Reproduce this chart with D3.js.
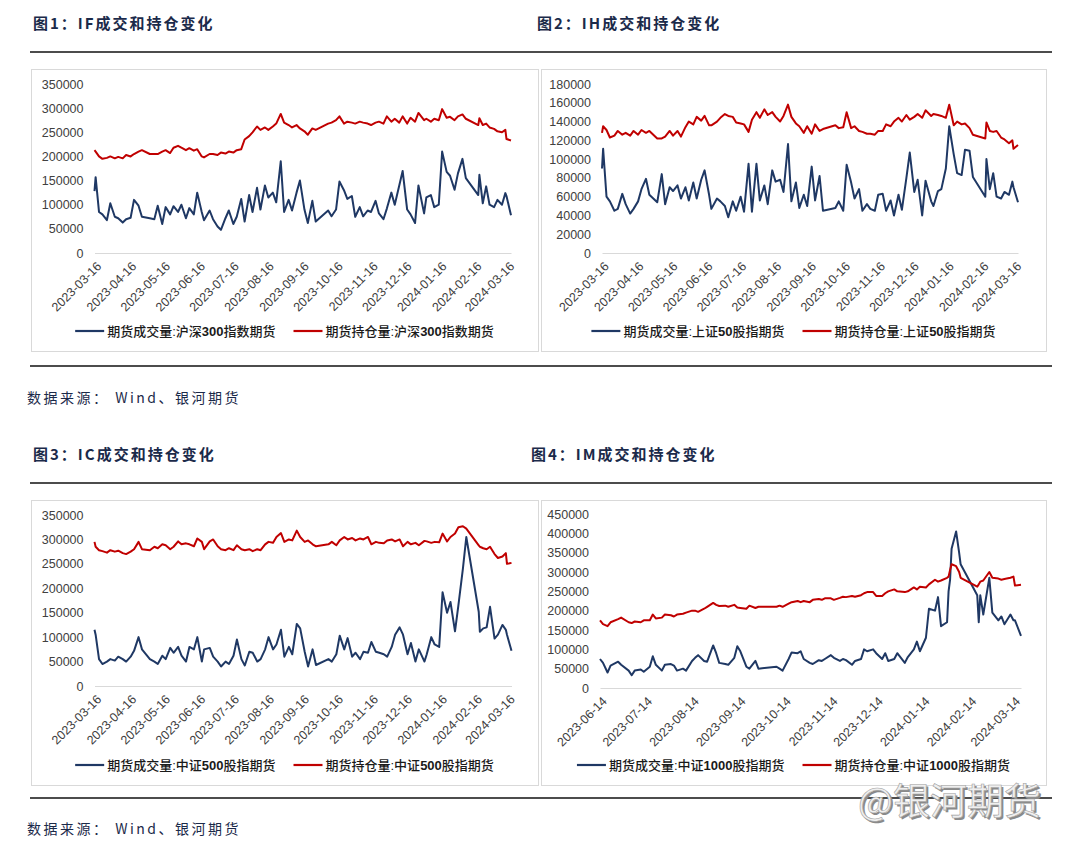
<!DOCTYPE html>
<html><head><meta charset="utf-8">
<script src="https://cdn.jsdelivr.net/npm/d3@7"></script>
<style>body{margin:0;background:#fff}svg{display:block}</style>
</head><body>
<svg id="c" width="1080" height="854"></svg>
<script>
// ---------- DATA ----------
const datesA = [
 "2023-03-16","2023-03-17","2023-03-20","2023-03-23","2023-03-27","2023-03-30",
 "2023-04-03","2023-04-06","2023-04-10","2023-04-13","2023-04-17","2023-04-20","2023-04-24","2023-04-27",
 "2023-05-04","2023-05-08","2023-05-11","2023-05-15","2023-05-18","2023-05-22","2023-05-25","2023-05-29",
 "2023-06-01","2023-06-05","2023-06-08","2023-06-12","2023-06-15","2023-06-19","2023-06-21","2023-06-26","2023-06-29",
 "2023-07-03","2023-07-06","2023-07-10","2023-07-13","2023-07-17","2023-07-20","2023-07-24","2023-07-27","2023-07-31",
 "2023-08-03","2023-08-07","2023-08-10","2023-08-14","2023-08-17","2023-08-21","2023-08-24","2023-08-28","2023-08-31",
 "2023-09-04","2023-09-07","2023-09-11","2023-09-14","2023-09-18","2023-09-21","2023-09-25","2023-09-28",
 "2023-10-09","2023-10-12","2023-10-16","2023-10-19","2023-10-23","2023-10-26","2023-10-30",
 "2023-11-02","2023-11-06","2023-11-09","2023-11-13","2023-11-16","2023-11-20","2023-11-23","2023-11-27","2023-11-30",
 "2023-12-04","2023-12-07","2023-12-11","2023-12-14","2023-12-18","2023-12-21","2023-12-25","2023-12-28",
 "2024-01-02","2024-01-04","2024-01-08","2024-01-11","2024-01-15","2024-01-18","2024-01-22","2024-01-25","2024-01-29",
 "2024-02-01","2024-02-05","2024-02-08","2024-02-19","2024-02-20","2024-02-23","2024-02-26","2024-02-29",
 "2024-03-04","2024-03-07","2024-03-11","2024-03-14","2024-03-15","2024-03-19"];

const ifVolume = [
 128000,157000,85000,80000,68000,103000,
 75000,72000,63000,70000,73000,110000,98000,75000,
 72000,70000,98000,60000,95000,80000,97000,85000,
 100000,72000,93000,80000,125000,85000,68000,88000,70000,
 55000,48000,72000,88000,60000,75000,112000,65000,120000,
 85000,135000,90000,140000,115000,125000,105000,190000,85000,
 110000,88000,125000,150000,90000,62000,108000,65000,
 88000,76000,90000,148000,130000,112000,118000,
 75000,95000,76000,88000,85000,108000,82000,70000,92000,
 125000,100000,140000,170000,90000,80000,62000,140000,
 82000,115000,120000,95000,100000,210000,168000,160000,131000,
 165000,195000,155000,120000,162000,103000,138000,100000,
 95000,110000,100000,124000,118000,78000];
const ifOI = [
 213000,210000,200000,195000,197000,200000,
 196000,199000,196000,203000,200000,205000,210000,213000,
 205000,205000,205000,210000,213000,207000,218000,222000,
 218000,213000,217000,212000,215000,200000,198000,205000,205000,
 203000,208000,206000,210000,208000,213000,215000,235000,242000,
 250000,262000,255000,260000,255000,262000,268000,288000,270000,
 265000,260000,265000,258000,252000,245000,258000,255000,
 268000,270000,275000,283000,268000,272000,270000,
 268000,272000,270000,268000,265000,270000,272000,268000,283000,
 272000,278000,270000,283000,268000,280000,272000,290000,
 275000,278000,272000,278000,275000,298000,280000,282000,275000,
 283000,287000,278000,265000,279000,265000,268000,260000,
 257000,252000,250000,255000,236000,233000];

const ihVolume = [
 90000,111000,60000,55000,45000,47000,
 63000,52000,42000,47000,55000,68000,79000,62000,
 54000,84000,52000,70000,66000,72000,58000,70000,
 56000,75000,58000,78000,88000,62000,47000,58000,55000,
 50000,38000,55000,45000,60000,44000,95000,44000,95000,
 56000,72000,52000,88000,76000,78000,65000,116000,55000,
 75000,48000,62000,50000,92000,56000,82000,45000,
 48000,55000,45000,94000,75000,58000,68000,
 45000,52000,47000,45000,62000,63000,45000,56000,40000,
 62000,46000,80000,107000,65000,78000,40000,77000,
 55000,50000,66000,68000,90000,135000,105000,85000,83000,
 110000,109000,81000,60000,100000,68000,85000,60000,
 58000,65000,62000,76000,70000,54000];
const ihOI = [
 128000,135000,131000,123000,125000,130000,
 126000,128000,125000,130000,126000,131000,128000,130000,
 122000,122000,124000,130000,125000,130000,124000,134000,
 140000,137000,145000,141000,146000,136000,136000,140000,144000,
 148000,146000,145000,139000,138000,137000,129000,142000,150000,
 144000,153000,147000,150000,145000,140000,146000,158000,145000,
 138000,135000,128000,135000,127000,137000,130000,132000,
 136000,133000,134000,150000,133000,135000,130000,
 129000,127000,127000,126000,130000,130000,137000,135000,140000,
 144000,140000,147000,142000,145000,148000,144000,152000,
 146000,148000,147000,146000,144000,158000,136000,140000,137000,
 138000,133000,126000,122000,139000,130000,129000,130000,
 123000,121000,117000,120000,111000,115000];

const icVolume = [
 115000,105000,55000,45000,50000,55000,
 52000,60000,55000,50000,60000,72000,100000,75000,
 55000,50000,45000,62000,55000,78000,68000,80000,
 62000,50000,80000,75000,100000,50000,75000,78000,60000,
 50000,40000,50000,45000,62000,95000,55000,42000,70000,
 68000,50000,55000,75000,100000,75000,85000,115000,60000,
 80000,65000,127000,118000,70000,40000,75000,43000,
 55000,50000,65000,103000,75000,98000,60000,
 68000,55000,70000,68000,90000,70000,68000,65000,60000,
 80000,105000,120000,105000,65000,88000,50000,75000,
 50000,65000,100000,85000,80000,192000,150000,172000,112000,
 165000,240000,305000,152000,111000,118000,120000,162000,
 97000,105000,125000,115000,105000,72000];
const icOI = [
 295000,285000,278000,276000,273000,278000,
 275000,277000,272000,270000,275000,280000,295000,280000,
 278000,285000,282000,290000,288000,280000,285000,296000,
 290000,292000,290000,286000,302000,295000,280000,296000,300000,
 286000,280000,278000,282000,278000,288000,280000,278000,280000,
 276000,280000,278000,290000,295000,293000,305000,313000,295000,
 300000,298000,318000,305000,295000,298000,290000,286000,
 290000,295000,288000,298000,305000,300000,303000,
 298000,302000,300000,305000,290000,295000,293000,292000,298000,
 300000,296000,300000,286000,295000,290000,293000,288000,
 297000,296000,293000,295000,294000,312000,296000,305000,312000,
 325000,327000,322000,288000,285000,282000,280000,285000,
 270000,262000,265000,272000,250000,252000];

const datesB = [
 "2023-06-14","2023-06-16","2023-06-19","2023-06-21","2023-06-26","2023-06-28",
 "2023-07-03","2023-07-05","2023-07-07","2023-07-11","2023-07-13","2023-07-17","2023-07-19","2023-07-21","2023-07-25","2023-07-27","2023-07-31",
 "2023-08-02","2023-08-04","2023-08-08","2023-08-10","2023-08-14","2023-08-16","2023-08-18","2023-08-22","2023-08-24","2023-08-28","2023-08-30",
 "2023-09-01","2023-09-05","2023-09-07","2023-09-11","2023-09-13","2023-09-15","2023-09-19","2023-09-21","2023-09-25","2023-09-27",
 "2023-10-09","2023-10-11","2023-10-13","2023-10-17","2023-10-19","2023-10-23","2023-10-25","2023-10-27","2023-10-31",
 "2023-11-02","2023-11-06","2023-11-08","2023-11-10","2023-11-14","2023-11-16","2023-11-20","2023-11-22","2023-11-24","2023-11-28","2023-11-30",
 "2023-12-04","2023-12-06","2023-12-08","2023-12-12","2023-12-14","2023-12-18","2023-12-20","2023-12-22","2023-12-26","2023-12-28",
 "2024-01-02","2024-01-04","2024-01-08","2024-01-10","2024-01-12","2024-01-16","2024-01-18","2024-01-22","2024-01-24","2024-01-26","2024-01-30","2024-01-31",
 "2024-02-01","2024-02-02","2024-02-05","2024-02-07","2024-02-08","2024-02-19","2024-02-20","2024-02-21","2024-02-23","2024-02-27","2024-02-29",
 "2024-03-04","2024-03-06","2024-03-08","2024-03-12","2024-03-14","2024-03-15","2024-03-19"];
const imVolume = [
 75000,65000,40000,58000,68000,60000,
 45000,33000,45000,48000,42000,55000,82000,60000,45000,60000,62000,
 58000,45000,50000,45000,70000,78000,85000,70000,68000,110000,90000,
 65000,62000,60000,78000,108000,95000,55000,50000,70000,50000,
 55000,50000,45000,75000,92000,90000,95000,75000,65000,
 62000,72000,70000,75000,85000,78000,70000,75000,72000,60000,70000,
 75000,100000,95000,100000,90000,75000,90000,70000,75000,90000,
 65000,80000,100000,120000,95000,130000,205000,200000,235000,160000,170000,250000,
 280000,360000,405000,350000,320000,240000,170000,240000,190000,285000,195000,
 175000,185000,165000,190000,175000,175000,135000];
const imOI = [
 175000,165000,160000,170000,178000,182000,
 170000,168000,172000,170000,175000,175000,190000,180000,182000,190000,188000,
 185000,190000,192000,195000,200000,200000,197000,205000,210000,220000,215000,
 212000,213000,210000,215000,208000,207000,205000,213000,207000,210000,
 210000,213000,210000,218000,222000,225000,222000,225000,222000,
 228000,230000,228000,232000,232000,228000,233000,236000,235000,238000,236000,
 240000,245000,248000,248000,238000,238000,245000,250000,255000,250000,
 248000,250000,260000,255000,262000,260000,268000,280000,275000,278000,285000,288000,
 305000,320000,315000,300000,285000,262000,268000,275000,278000,300000,285000,
 283000,280000,282000,285000,288000,265000,267000];

const ticksA = ["2023-03-16","2023-04-16","2023-05-16","2023-06-16","2023-07-16","2023-08-16","2023-09-16","2023-10-16","2023-11-16","2023-12-16","2024-01-16","2024-02-16","2024-03-16"];
const ticksB = ["2023-06-14","2023-07-14","2023-08-14","2023-09-14","2023-10-14","2023-11-14","2023-12-14","2024-01-14","2024-02-14","2024-03-14"];

const titles = ["图1：IF成交和持仓变化","图2：IH成交和持仓变化","图3：IC成交和持仓变化","图4：IM成交和持仓变化"];
const volNames = ["期货成交量:沪深300指数期货","期货成交量:上证50股指期货","期货成交量:中证500股指期货","期货成交量:中证1000股指期货"];
const oiNames  = ["期货持仓量:沪深300指数期货","期货持仓量:上证50股指期货","期货持仓量:中证500股指期货","期货持仓量:中证1000股指期货"];
const yMaxes = [350000,180000,350000,450000];
const ySteps = [50000,20000,50000,50000];
const sourceText = "数据来源： Wind、银河期货";
const watermark = "@银河期货";

// ---------- DRAW ----------
const BLUE = "#1f3864", RED = "#c00000";
const NUM_FONT = "'Liberation Sans', Arial, Helvetica, sans-serif";
const CJK_FONT = "'Liberation Sans', 'Noto Sans CJK SC', sans-serif";
const parse = d3.timeParse("%Y-%m-%d");
const svg = d3.select("#c");
svg.append("rect").attr("width",1080).attr("height",854).attr("fill","#fff");

const layout = [
  {box:[31,69,538,351], plot:[94.5,511,253,84], titleXY:[33,28.5], legendY:331},
  {box:[541,69,1046,351], plot:[602,1018,253,84], titleXY:[537,28.5], legendY:331},
  {box:[31,500,538,785], plot:[94.5,511.5,686,515], titleXY:[33,459.5], legendY:765},
  {box:[541,500,1046,785], plot:[600,1021,688,514], titleXY:[531,459.5], legendY:765}
];
const panelData = [
  {dates:datesA, vol:ifVolume, oi:ifOI, ticks:ticksA},
  {dates:datesA, vol:ihVolume, oi:ihOI, ticks:ticksA},
  {dates:datesA, vol:icVolume, oi:icOI, ticks:ticksA},
  {dates:datesB, vol:imVolume, oi:imOI, ticks:ticksB}
];

// horizontal rules
[52,366,483,798].forEach(yy => svg.append("line")
  .attr("x1",30).attr("x2",1052).attr("y1",yy).attr("y2",yy)
  .attr("stroke","#111").attr("stroke-width",1.3));

// source lines
[403,834].forEach(yy => svg.append("text").attr("x",27).attr("y",yy)
  .attr("font-family","'Noto Sans CJK SC', sans-serif").attr("font-size",14)
  .attr("letter-spacing",2.5).attr("fill","#1b2a4a").text(sourceText));

panelData.forEach((pd, i) => {
  const L = layout[i];
  const g = svg.append("g");
  // title
  svg.append("text").attr("x",L.titleXY[0]).attr("y",L.titleXY[1])
    .attr("font-family","'Noto Sans CJK SC', sans-serif").attr("font-weight","bold")
    .attr("font-size",15).attr("letter-spacing",2).attr("fill","#1b2a4a").text(titles[i]);
  // box
  g.append("rect").attr("x",L.box[0]+0.5).attr("y",L.box[1]+0.5)
    .attr("width",L.box[2]-L.box[0]).attr("height",L.box[3]-L.box[1])
    .attr("fill","#fff").attr("stroke","#d9d9d9").attr("stroke-width",1);

  const dates = pd.dates.map(parse);
  const x = d3.scaleTime().domain([dates[0], dates[dates.length-1]]).range([L.plot[0], L.plot[1]]);
  const y = d3.scaleLinear().domain([0, yMaxes[i]]).range([L.plot[2], L.plot[3]]);

  // y axis
  const yg = g.append("g").attr("transform",`translate(${L.plot[0]},0)`)
    .call(d3.axisLeft(y).tickValues(d3.range(0, yMaxes[i]+1, ySteps[i])).tickSize(0).tickPadding(11).tickFormat(d3.format("d")));
  yg.select(".domain").remove();
  yg.selectAll("text").attr("font-family",NUM_FONT).attr("font-size",12.5).attr("fill","#404040");

  // x axis
  const xg = g.append("g").attr("transform",`translate(0,${L.plot[2]})`)
    .call(d3.axisBottom(x).tickValues(pd.ticks.map(parse)).tickSize(0).tickSizeOuter(0).tickFormat(d3.timeFormat("%Y-%m-%d")));
  xg.select(".domain").attr("stroke","#d9d9d9").attr("stroke-width",1.2);
  xg.selectAll("text").attr("font-family",NUM_FONT).attr("font-size",12.5).attr("fill","#404040")
    .attr("text-anchor","end").attr("x",0).attr("y",0).attr("dy","0.35em")
    .attr("transform","translate(4,11) rotate(-45)");

  // lines
  const n = Math.min(dates.length, pd.vol.length, pd.oi.length);
  const volSeries = d3.range(n).map(k => ({d:dates[k], v:pd.vol[k]}));
  const oiSeries = d3.range(n).map(k => ({d:dates[k], v:pd.oi[k]}));
  const line = d3.line().x(p => x(p.d)).y(p => y(p.v));
  g.append("path").datum(volSeries).attr("d",line).attr("fill","none")
    .attr("stroke",BLUE).attr("stroke-width",2).attr("stroke-linejoin","round");
  g.append("path").datum(oiSeries).attr("d",line).attr("fill","none")
    .attr("stroke",RED).attr("stroke-width",2).attr("stroke-linejoin","round");

  // legend
  const lg = g.append("g");
  let pos = 0;
  [[BLUE, volNames[i]],[RED, oiNames[i]]].forEach((it, k) => {
    const ig = lg.append("g").attr("transform",`translate(${pos},0)`);
    ig.append("line").attr("x1",0).attr("x2",29).attr("y1",0).attr("y2",0)
      .attr("stroke",it[0]).attr("stroke-width",2.2);
    const t = ig.append("text").attr("x",32).attr("y",0).attr("dy","0.36em")
      .attr("font-family",CJK_FONT).attr("font-size",13).attr("font-weight",500).attr("fill","#1a1a1a");
    it[1].split(/(\d+)/).forEach(s => { if (s) t.append("tspan").text(s).attr("font-weight", /\d/.test(s) ? "bold" : null); });
    pos += 32 + t.node().getComputedTextLength() + 18;
  });
  const total = pos - 18;
  lg.attr("transform",`translate(${(L.box[0]+L.box[2])/2 - total/2},${L.legendY})`);
});

// watermark
const wm = svg.append("g").attr("font-family","'Noto Sans CJK SC', sans-serif").attr("font-size",37);
wm.append("text").attr("x",860).attr("y",817).attr("fill","#8a8a8a").text(watermark);
wm.append("text").attr("x",858).attr("y",815).attr("fill","#efefef").attr("stroke","#a0a0a0").attr("stroke-width",0.6).text(watermark);
</script>
</body></html>
